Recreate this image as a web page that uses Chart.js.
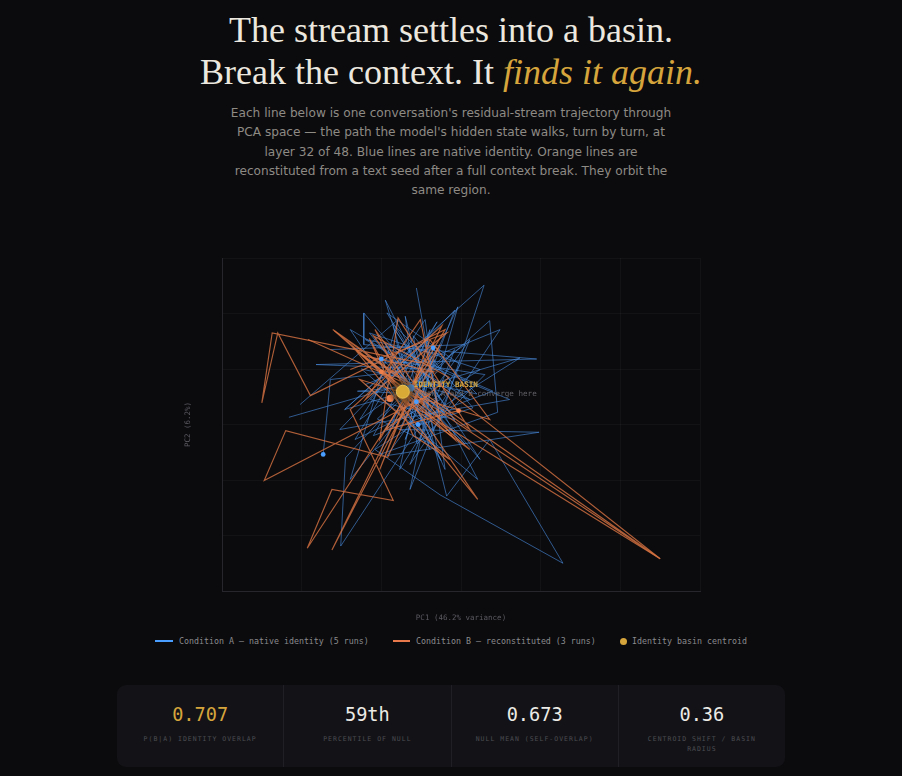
<!DOCTYPE html>
<html>
<head>
<meta charset="utf-8">
<script src="https://cdn.jsdelivr.net/npm/chart.js@4.4.1/dist/chart.umd.min.js"></script>
<style>
  html, body { margin:0; padding:0; background:#0b0b0e; }
  body { width:902px; height:776px; position:relative; overflow:hidden; }
  h1 { position:absolute; left:0; top:8.5px; width:902px; margin:0; text-align:center;
       font-family:"Liberation Serif", serif; font-weight:400; font-size:36px; line-height:42px; color:#ece8df; }
  h1 em { color:#d6a53c; font-style:italic; }
  .sub { position:absolute; left:228px; width:446px; top:104px; margin:0; text-align:center;
         font-family:"DejaVu Sans", sans-serif; font-size:12.15px; line-height:19.3px; color:#8e8a84; }
  #wrap { position:absolute; left:170px; top:250px; width:540px; height:380px; }
  .legend { position:absolute; top:634px; left:0; width:902px; height:14px;
            font-family:"DejaVu Sans Mono", monospace; font-size:8.3px; color:#8a8a8c; }
  .li { position:absolute; top:0; line-height:14px; white-space:nowrap; }
  .sw { position:absolute; top:6px; height:2px; }
  .dot { position:absolute; top:3.5px; width:7px; height:7px; border-radius:50%; background:#d6a53c; }
  .stats { position:absolute; left:117px; top:685px; width:668px; height:82px; background:#131317;
           border-radius:9px; display:flex; }
  .cell { flex:1; border-right:1px solid #1f1f25; text-align:center; padding:0 16px; box-sizing:border-box; }
  .cell:last-child { border-right:none; }
  .val { font-family:"DejaVu Sans Mono", monospace; font-size:18.6px; color:#ecebe6; margin-top:18px; line-height:24px; }
  .val.gold { color:#d6a53c; }
  .lab { font-family:"DejaVu Sans Mono", monospace; font-size:6.5px; letter-spacing:1px; color:#4d4d53;
         margin-top:7px; line-height:10px; text-transform:uppercase; }
</style>
</head>
<body>
<h1>The stream settles into a basin.<br>Break the context. It <em>finds it again.</em></h1>
<p class="sub">Each line below is one conversation's residual-stream trajectory through PCA space — the path the model's hidden state walks, turn by turn, at layer 32 of 48. Blue lines are native identity. Orange lines are reconstituted from a text seed after a full context break. They orbit the same region.</p>
<div id="wrap"><canvas id="c"></canvas></div>
<div class="legend">
  <div class="sw" style="left:155px;width:18px;background:#4a9eff"></div>
  <div class="li" style="left:179px">Condition A — native identity (5 runs)</div>
  <div class="sw" style="left:393px;width:17px;background:#e8794a"></div>
  <div class="li" style="left:416px">Condition B — reconstituted (3 runs)</div>
  <div class="dot" style="left:619.5px"></div>
  <div class="li" style="left:632px">Identity basin centroid</div>
</div>
<div class="stats">
  <div class="cell"><div class="val gold">0.707</div><div class="lab">P(B|A) identity overlap</div></div>
  <div class="cell"><div class="val">59th</div><div class="lab">Percentile of null</div></div>
  <div class="cell"><div class="val">0.673</div><div class="lab">Null mean (self-overlap)</div></div>
  <div class="cell"><div class="val">0.36</div><div class="lab">Centroid shift / basin radius</div></div>
</div>
<script>
// ---- Data: PCA coordinates (PC1, PC2) per turn ----
const runA1 = [[-1.46,0.27],[-0.64,1.35],[-1.33,-0.27],[-0.26,0.45],[-0.93,2.01],[-0.01,1.08],[-1.51,-2.19],[-1.45,-0.60],[-0.89,0.27],[0.36,1.87],[0.46,0.22],[-1.02,-0.54],[-0.39,1.71],[-0.77,-0.81],[-0.14,0.63],[-1.20,1.53],[-0.20,1.25],[-1.05,0.10],[-0.30,-0.40],[-0.60,1.60],[0.15,0.30],[-0.51,0.00],[-0.35,1.38]];
const runA2 = [[-2.16,0.13],[-0.51,0.81],[-1.22,2.01],[-1.22,1.44],[0.95,1.18],[-1.82,1.08],[-0.26,0.99],[-0.04,2.12],[-0.77,-0.09],[0.98,-0.14],[-0.93,-0.56],[0.11,1.53],[-0.64,-1.17],[-0.39,0.54],[-1.30,0.60],[-0.10,0.75],[-0.85,1.80],[-0.55,-0.35],[0.30,0.90],[-1.10,1.20],[-0.20,0.20],[-1.00,1.18]];
const runA3 = [[-0.56,2.46],[-0.26,0.09],[0.29,2.51],[-1.46,0.27],[0.74,1.20],[-1.08,-0.45],[-0.26,-1.27],[1.28,-2.50],[0.36,-0.27],[-0.18,-1.29],[-0.51,0.63],[0.24,-0.63],[-0.83,1.71],[-0.08,0.09],[-1.14,0.45],[-0.45,1.50],[0.20,0.55],[-1.25,1.00],[-0.35,-0.10],[-0.70,1.95],[-0.56,0.41]];
const runA4 = [[-2.02,0.36],[-0.79,1.89],[-1.39,-0.99],[-0.08,1.35],[-0.64,-0.72],[0.49,1.71],[-1.20,0.72],[0.21,-0.99],[-0.95,2.24],[-0.39,-0.45],[-1.39,1.71],[0.11,0.45],[-0.77,0.81],[-0.30,1.85],[-1.10,-0.20],[0.40,0.60],[-0.95,1.45],[-0.25,-0.65],[-0.54,0.00]];
const runA5 = [[-1.64,1.35],[0.05,1.44],[-1.27,0.09],[-0.45,1.89],[-0.20,-0.81],[-0.89,1.35],[0.61,0.45],[-1.52,-0.09],[-0.08,2.06],[-0.70,-0.27],[-0.33,1.17],[-0.95,-0.09],[0.24,0.99],[-1.15,1.65],[-0.40,0.30],[0.05,-0.35],[-0.80,0.95],[-1.64,0.81],[-1.73,-0.54]];
const runB1 = [[-0.51,1.11],[-2.37,1.65],[-2.50,0.39],[-2.30,1.65],[-1.89,0.52],[-0.20,1.71],[-1.02,-0.27],[-0.79,1.92],[0.11,-0.09],[-1.61,1.71],[2.50,-2.42],[-0.77,0.72],[0.21,-1.35],[-1.33,1.35],[-0.45,0.35],[-1.10,1.60],[-0.15,0.85],[-0.95,-0.10],[-0.03,0.25]];
const runB2 = [[-1.92,1.53],[-0.39,0.54],[-2.47,-1.01],[-2.20,-0.11],[-0.92,-0.59],[-0.26,1.44],[-1.93,-2.23],[-1.62,-1.17],[-0.85,-1.37],[-1.39,0.27],[-0.24,1.78],[-1.62,-2.26],[-0.64,0.45],[-1.08,1.71],[-0.08,-0.27],[-1.25,1.25],[-0.35,0.95],[-1.00,0.95]];
const runB3 = [[-1.39,0.99],[-0.18,1.65],[-1.20,0.45],[-0.51,1.89],[-0.26,0.09],[-1.59,1.69],[0.11,-0.45],[-0.83,0.54],[2.50,-2.42],[-0.51,0.99],[-1.02,-0.81],[-0.39,1.53],[0.36,0.09],[-1.27,0.81],[-0.14,-0.63],[-0.60,-0.20],[-1.15,1.55],[-0.79,0.63]];
const centroidA = [-0.63, 0.66];
const centroidB = [-0.89, 0.47];
const basinCentroid = [-0.73, 0.59];
const runsA = [runA1, runA2, runA3, runA4, runA5];
const runsB = [runB1, runB2, runB3];
const xTitle = 'PC1 (46.2% variance)';
const yTitle = 'PC2 (6.2%)';

const toPts = arr => arr.map(p => ({x:p[0], y:p[1]}));

const datasets = [];
datasets.push({ label:'centroid', data:toPts([basinCentroid]), pointRadius:6.5, pointBackgroundColor:'#d9aa35',
  pointBorderColor:'rgba(240,200,90,0.9)', pointBorderWidth:1, showLine:false });
datasets.push({ label:'cA', data:toPts([centroidA]), pointRadius:3.6, pointBackgroundColor:'#4a9eff', pointBorderWidth:0, showLine:false });
datasets.push({ label:'cB', data:toPts([centroidB]), pointRadius:3.6, pointBackgroundColor:'#f0804c', pointBorderWidth:0, showLine:false });
datasets.push({ label:'endA', data:toPts(runsA.map(r => r[r.length-1])), pointRadius:2.4, pointBackgroundColor:'#4a9eff', pointBorderWidth:0, showLine:false });
datasets.push({ label:'endB', data:toPts(runsB.map(r => r[r.length-1])), pointRadius:2.4, pointBackgroundColor:'#f0804c', pointBorderWidth:0, showLine:false });
runsB.forEach((r,i) => datasets.push({ label:'B'+i, data:toPts(r), showLine:true, borderColor:'rgba(222,118,66,0.78)', borderWidth:1.15, pointRadius:0, tension:0 }));
runsA.forEach((r,i) => datasets.push({ label:'A'+i, data:toPts(r), showLine:true, borderColor:'rgba(72,138,220,0.62)', borderWidth:1, pointRadius:0, tension:0 }));

const basinPlugin = {
  id:'basin',
  beforeDatasetDraw(chart, args) {
    if (args.index !== 0) return;
    const ctx = chart.ctx;
    const px = chart.scales.x.getPixelForValue(basinCentroid[0]);
    const py = chart.scales.y.getPixelForValue(basinCentroid[1]);
    const g = ctx.createRadialGradient(px, py, 2, px, py, 15);
    g.addColorStop(0, 'rgba(130,95,25,0.8)');
    g.addColorStop(0.5, 'rgba(80,58,18,0.55)');
    g.addColorStop(1, 'rgba(20,16,10,0)');
    ctx.save(); ctx.fillStyle = g; ctx.beginPath(); ctx.arc(px, py, 15, 0, Math.PI*2); ctx.fill(); ctx.restore();
  },
  afterDatasetsDraw(chart) {
    const ctx = chart.ctx;
    const px = chart.scales.x.getPixelForValue(basinCentroid[0]);
    const py = chart.scales.y.getPixelForValue(basinCentroid[1]);
    ctx.save();
    ctx.textBaseline = 'middle';
    ctx.font = 'bold 7.6px "DejaVu Sans Mono", monospace';
    ctx.fillStyle = '#d6a53c';
    ctx.fillText('IDENTITY BASIN', px + 11, py - 7);
    ctx.font = '7.6px "DejaVu Sans Mono", monospace';
    ctx.fillStyle = 'rgba(110,110,115,0.85)';
    ctx.fillText('both A and B converge here', px + 15, py + 2);
    ctx.restore();
  }
};

new Chart(document.getElementById('c'), {
  type:'scatter',
  data:{ datasets },
  options:{
    responsive:true, maintainAspectRatio:false, animation:false,
    layout:{ padding:{ top:8, right:10, left:9.5, bottom:3.5 } },
    plugins:{ legend:{ display:false }, tooltip:{ enabled:false } },
    scales:{
      x:{ type:'linear', min:-3, max:3,
          ticks:{ display:false, stepSize:1 },
          grid:{ color:'rgba(255,255,255,0.035)', drawTicks:false },
          border:{ color:'#26262c', width:1 },
          title:{ display:true, text:xTitle, color:'#5a5a60', font:{ family:'"DejaVu Sans Mono", monospace', size:7.5 }, padding:{ top:22.5, bottom:4 } } },
      y:{ type:'linear', min:-3, max:3,
          ticks:{ display:false, stepSize:1 },
          grid:{ color:'rgba(255,255,255,0.035)', drawTicks:false },
          border:{ color:'#26262c', width:1 },
          title:{ display:true, text:yTitle, color:'#5a5a60', font:{ family:'"DejaVu Sans Mono", monospace', size:7.5 }, padding:{ top:4, bottom:29.5 } } }
    }
  },
  plugins:[basinPlugin]
});
</script>
</body>
</html>
